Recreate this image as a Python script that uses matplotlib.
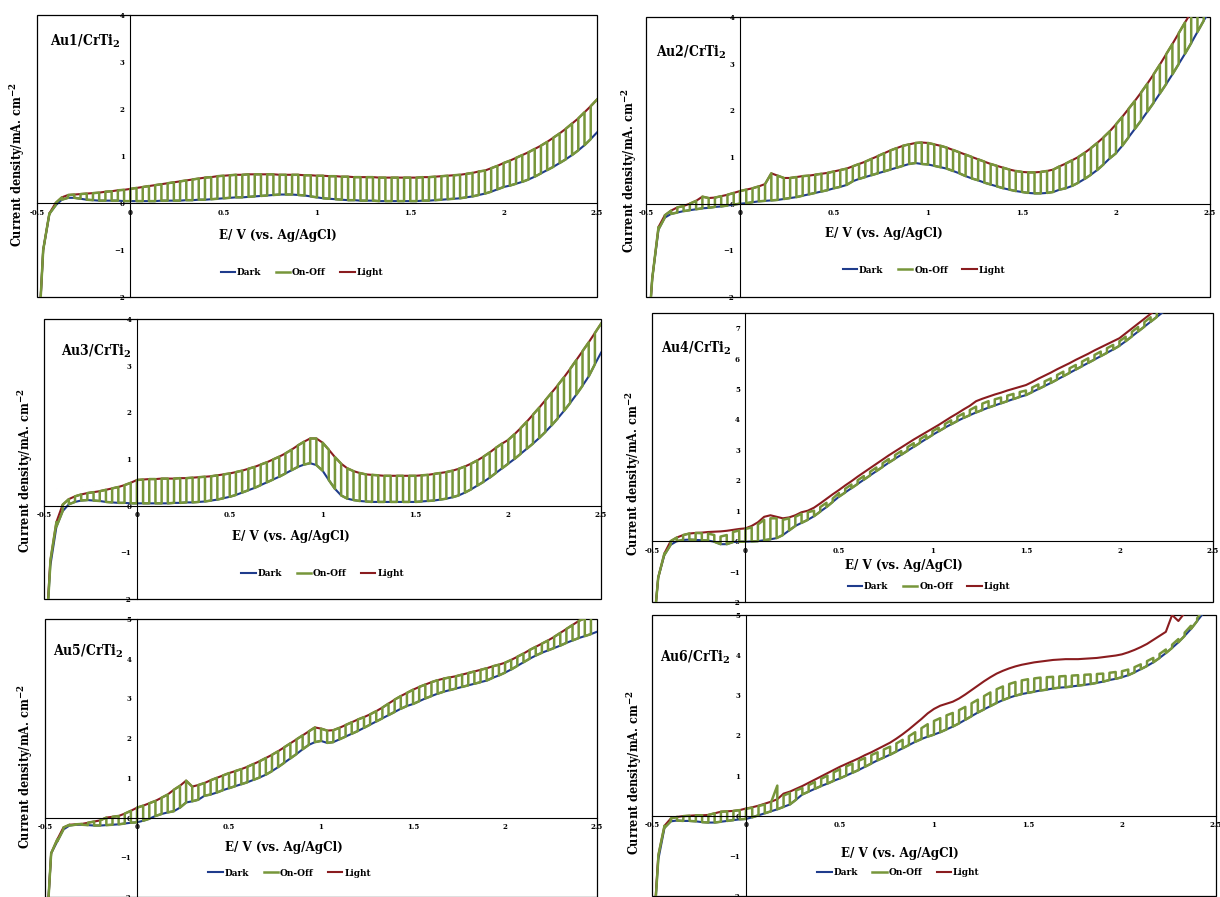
import numpy as np
import matplotlib.pyplot as plt
from matplotlib.patches import Rectangle

plt.rcParams['font.family'] = 'DejaVu Serif'
plt.rcParams['font.weight'] = 'bold'
plt.rcParams['mathtext.fontset'] = 'dejavuserif'

# potential grid (V vs Ag/AgCl); chopping edges sit on every grid point
potential = np.linspace(-0.5, 2.5, 91)

# current density (mA cm-2), one value per grid point
au1_dark = [-3.5, -1.0, -0.23, -0.05, 0.07, 0.11, 0.11, 0.09, 0.07, 0.06, 0.05, 0.05, 0.05, 0.05, 0.04,
            0.04, 0.04, 0.04, 0.04, 0.04, 0.05, 0.05, 0.05, 0.05, 0.06, 0.06, 0.07, 0.07, 0.08, 0.09,
            0.10, 0.11, 0.12, 0.12, 0.13, 0.14, 0.15, 0.16, 0.17, 0.18, 0.18, 0.18, 0.17, 0.16, 0.14,
            0.12, 0.10, 0.09, 0.08, 0.07, 0.06, 0.06, 0.05, 0.05, 0.05, 0.04, 0.04, 0.04, 0.04, 0.04,
            0.04, 0.04, 0.05, 0.05, 0.06, 0.07, 0.08, 0.09, 0.10, 0.12, 0.14, 0.17, 0.20, 0.24, 0.29,
            0.34, 0.37, 0.41, 0.45, 0.50, 0.56, 0.63, 0.70, 0.77, 0.85, 0.93, 1.02, 1.12, 1.23, 1.36,
            1.50]
au1_light = [-3.5, -1.0, -0.22, 0.0, 0.12, 0.17, 0.18, 0.19, 0.20, 0.21, 0.22, 0.24, 0.25, 0.27, 0.28,
             0.30, 0.32, 0.34, 0.36, 0.38, 0.40, 0.42, 0.44, 0.46, 0.48, 0.50, 0.52, 0.54, 0.55, 0.57,
             0.58, 0.59, 0.60, 0.60, 0.61, 0.61, 0.61, 0.61, 0.61, 0.60, 0.60, 0.60, 0.60, 0.59, 0.59,
             0.58, 0.58, 0.57, 0.57, 0.56, 0.56, 0.55, 0.55, 0.55, 0.55, 0.54, 0.54, 0.54, 0.54, 0.54,
             0.54, 0.54, 0.55, 0.55, 0.56, 0.57, 0.58, 0.59, 0.60, 0.62, 0.64, 0.67, 0.69, 0.74, 0.79,
             0.85, 0.90, 0.96, 1.02, 1.08, 1.15, 1.22, 1.30, 1.39, 1.48, 1.58, 1.69, 1.80, 1.93, 2.06,
             2.20]

au2_dark = [-3.5, -1.6, -0.55, -0.30, -0.22, -0.19, -0.16, -0.14, -0.12, -0.10, -0.09, -0.07, -0.06, -0.04, -0.02,
            0.0, 0.01, 0.03, 0.05, 0.06, 0.07, 0.08, 0.10, 0.12, 0.14, 0.17, 0.20, 0.23, 0.26, 0.29,
            0.33, 0.36, 0.40, 0.48, 0.53, 0.57, 0.61, 0.65, 0.69, 0.73, 0.77, 0.81, 0.85, 0.87, 0.85,
            0.84, 0.81, 0.78, 0.75, 0.70, 0.65, 0.59, 0.54, 0.50, 0.45, 0.41, 0.37, 0.33, 0.30, 0.27,
            0.25, 0.23, 0.22, 0.22, 0.23, 0.25, 0.30, 0.33, 0.38, 0.45, 0.53, 0.62, 0.72, 0.84, 0.97,
            1.08, 1.24, 1.42, 1.60, 1.78, 1.97, 2.16, 2.36, 2.56, 2.77, 2.99, 3.21, 3.44, 3.68, 3.92,
            4.15]
au2_light = [-3.5, -1.6, -0.50, -0.25, -0.15, -0.08, -0.05, 0.0, 0.06, 0.15, 0.12, 0.13, 0.16, 0.19, 0.23,
             0.27, 0.30, 0.33, 0.37, 0.42, 0.65, 0.60, 0.55, 0.55, 0.57, 0.59, 0.60, 0.62, 0.64, 0.66,
             0.69, 0.72, 0.75, 0.80, 0.85, 0.90, 0.96, 1.02, 1.08, 1.14, 1.19, 1.24, 1.27, 1.30, 1.31,
             1.30, 1.27, 1.24, 1.20, 1.15, 1.10, 1.05, 1.00, 0.95, 0.90, 0.85, 0.81, 0.77, 0.73, 0.70,
             0.68, 0.67, 0.67, 0.68, 0.70, 0.73, 0.80, 0.86, 0.93, 1.00, 1.09, 1.19, 1.30, 1.42, 1.55,
             1.70, 1.86, 2.03, 2.20, 2.38, 2.57, 2.77, 2.98, 3.20, 3.42, 3.65, 3.88, 4.10, 4.35, 4.60,
             4.85]

au3_dark = [-3.5, -1.3, -0.45, -0.12, 0.03, 0.08, 0.11, 0.12, 0.11, 0.10, 0.08, 0.07, 0.06, 0.06, 0.05,
            0.05, 0.05, 0.05, 0.05, 0.05, 0.05, 0.06, 0.06, 0.07, 0.07, 0.08, 0.09, 0.11, 0.13, 0.16,
            0.19, 0.23, 0.28, 0.33, 0.38, 0.44, 0.50, 0.56, 0.62, 0.69, 0.76, 0.83, 0.88, 0.91, 0.87,
            0.75, 0.55, 0.36, 0.22, 0.15, 0.12, 0.10, 0.09, 0.08, 0.08, 0.08, 0.08, 0.08, 0.08, 0.08,
            0.08, 0.09, 0.10, 0.11, 0.13, 0.15, 0.18, 0.22, 0.28, 0.35, 0.43, 0.51, 0.60, 0.70, 0.80,
            0.90, 1.00, 1.11, 1.22, 1.33, 1.45, 1.58, 1.72, 1.87, 2.03, 2.20, 2.38, 2.57, 2.77, 3.03,
            3.28]
au3_light = [-3.5, -1.2, -0.35, 0.02, 0.14, 0.20, 0.24, 0.27, 0.29, 0.31, 0.34, 0.37, 0.40, 0.44, 0.49,
             0.55, 0.56, 0.57, 0.57, 0.58, 0.58, 0.58, 0.59, 0.59, 0.60, 0.61, 0.62, 0.63, 0.65, 0.67,
             0.69, 0.72, 0.75, 0.79, 0.83, 0.88, 0.93, 0.99, 1.05, 1.12, 1.20, 1.29, 1.37, 1.44, 1.44,
             1.35, 1.20, 1.04, 0.90, 0.80, 0.74, 0.70, 0.67, 0.66, 0.65, 0.64, 0.64, 0.64, 0.64, 0.64,
             0.64, 0.65, 0.66, 0.68, 0.70, 0.72, 0.75, 0.79, 0.84, 0.90, 0.97, 1.05, 1.14, 1.24, 1.33,
             1.41, 1.53, 1.66, 1.80, 1.95, 2.10, 2.26, 2.42, 2.58, 2.75, 2.93, 3.12, 3.31, 3.50, 3.70,
             3.90]

au4_dark = [-3.5, -1.2, -0.45, -0.12, 0.0, 0.04, 0.05, 0.04, 0.03, 0.02, -0.02, -0.10, -0.10, -0.03, -0.02,
            -0.02, -0.01, 0.0, 0.03, 0.06, 0.10, 0.20, 0.35, 0.50, 0.60, 0.70, 0.82, 0.97, 1.12, 1.29,
            1.46, 1.60, 1.74, 1.88, 2.02, 2.16, 2.30, 2.44, 2.58, 2.71, 2.84, 2.97, 3.10, 3.23, 3.36,
            3.49, 3.61, 3.73, 3.84, 3.95, 4.05, 4.14, 4.23, 4.31, 4.39, 4.46, 4.53, 4.60, 4.67, 4.74,
            4.80, 4.90, 5.00, 5.10, 5.20, 5.31, 5.42, 5.53, 5.64, 5.75, 5.86, 5.97, 6.08, 6.19, 6.30,
            6.42, 6.57, 6.73, 6.89, 7.05, 7.21, 7.37, 7.53, 7.69, 7.85, 8.00, 8.15, 8.30, 8.45, 8.60,
            8.75]
au4_light = [-3.5, -1.2, -0.40, 0.0, 0.12, 0.20, 0.25, 0.27, 0.28, 0.30, 0.31, 0.32, 0.34, 0.37, 0.40,
             0.42, 0.50, 0.62, 0.80, 0.85, 0.80, 0.75, 0.78, 0.85, 0.95, 1.00, 1.10, 1.24, 1.39, 1.54,
             1.68, 1.83, 1.97, 2.12, 2.26, 2.40, 2.54, 2.68, 2.82, 2.95, 3.08, 3.21, 3.34, 3.46, 3.58,
             3.70, 3.82, 3.95, 4.08, 4.20, 4.33, 4.45, 4.60, 4.68, 4.75, 4.82, 4.88, 4.95, 5.01, 5.07,
             5.13, 5.23, 5.34, 5.44, 5.54, 5.65, 5.75, 5.85, 5.96, 6.06, 6.16, 6.27, 6.37, 6.47, 6.57,
             6.67, 6.83, 6.99, 7.15, 7.31, 7.47, 7.63, 7.79, 7.95, 8.10, 8.25, 8.40, 8.55, 8.70, 8.85,
             9.00]
# level the chopped trace reaches while illuminated (below the Light curve here)
au4_on = [-3.5, -1.2, -0.40, 0.0, 0.12, 0.20, 0.25, 0.27, 0.26, 0.25, 0.20, 0.15, 0.20, 0.30, 0.35,
          0.40, 0.45, 0.55, 0.70, 0.75, 0.75, 0.70, 0.75, 0.80, 0.90, 0.95, 1.00, 1.12, 1.26, 1.40,
          1.58, 1.72, 1.86, 2.00, 2.14, 2.28, 2.42, 2.56, 2.70, 2.83, 2.96, 3.09, 3.22, 3.35, 3.48,
          3.61, 3.73, 3.85, 3.97, 4.09, 4.20, 4.31, 4.42, 4.52, 4.60, 4.66, 4.72, 4.78, 4.84, 4.90,
          4.95, 5.05, 5.15, 5.25, 5.35, 5.46, 5.57, 5.68, 5.79, 5.90, 6.01, 6.12, 6.23, 6.34, 6.45,
          6.57, 6.72, 6.88, 7.04, 7.20, 7.36, 7.52, 7.68, 7.84, 8.00, 8.15, 8.30, 8.45, 8.60, 8.75,
          8.90]

au5_dark = [-3.5, -0.9, -0.60, -0.30, -0.20, -0.18, -0.18, -0.19, -0.20, -0.20, -0.19, -0.18, -0.17, -0.15, -0.13,
            -0.12, -0.08, -0.03, 0.04, 0.09, 0.13, 0.16, 0.25, 0.38, 0.41, 0.45, 0.55, 0.58, 0.63, 0.69,
            0.74, 0.79, 0.84, 0.89, 0.95, 1.01, 1.08, 1.17, 1.27, 1.38, 1.49, 1.60, 1.72, 1.83, 1.90,
            1.93, 1.88, 1.90, 1.97, 2.04, 2.11, 2.18, 2.26, 2.34, 2.42, 2.50, 2.58, 2.66, 2.74, 2.81,
            2.86, 2.93, 3.00, 3.06, 3.12, 3.17, 3.21, 3.25, 3.29, 3.33, 3.37, 3.41, 3.45, 3.52, 3.58,
            3.65, 3.73, 3.82, 3.91, 4.00, 4.08, 4.15, 4.21, 4.27, 4.33, 4.40, 4.46, 4.52, 4.57, 4.62,
            4.68]
au5_light = [-3.5, -0.9, -0.55, -0.25, -0.18, -0.17, -0.16, -0.13, -0.10, -0.07, 0.0, 0.02, 0.04, 0.10, 0.17,
             0.25, 0.30, 0.36, 0.42, 0.50, 0.58, 0.70, 0.80, 0.93, 0.78, 0.82, 0.87, 0.94, 1.00, 1.06,
             1.12, 1.17, 1.22, 1.28, 1.35, 1.42, 1.50, 1.58, 1.67, 1.77, 1.87, 1.97, 2.07, 2.17, 2.27,
             2.24, 2.19, 2.20, 2.26, 2.33, 2.40, 2.47, 2.53, 2.60, 2.68, 2.77, 2.87, 2.97, 3.06, 3.14,
             3.22, 3.29, 3.35, 3.41, 3.46, 3.50, 3.53, 3.56, 3.60, 3.64, 3.68, 3.72, 3.76, 3.81, 3.85,
             3.90, 3.97, 4.05, 4.13, 4.22, 4.30, 4.38, 4.46, 4.55, 4.65, 4.75, 4.85, 4.95, 5.02, 5.08,
             5.15]

au6_dark = [-3.5, -1.1, -0.30, -0.14, -0.12, -0.13, -0.13, -0.14, -0.16, -0.17, -0.17, -0.15, -0.13, -0.11, -0.09,
            -0.08, -0.04, 0.01, 0.06, 0.11, 0.16, 0.22, 0.28, 0.40, 0.53, 0.60, 0.67, 0.74, 0.80, 0.87,
            0.93, 1.00, 1.07, 1.14, 1.22, 1.30, 1.38, 1.45, 1.52, 1.60, 1.68, 1.76, 1.84, 1.91, 1.97,
            2.02, 2.08, 2.15, 2.22, 2.30, 2.39, 2.48, 2.57, 2.65, 2.73, 2.81, 2.88, 2.94, 2.99, 3.03,
            3.06, 3.09, 3.12, 3.14, 3.17, 3.19, 3.20, 3.22, 3.24, 3.26, 3.28, 3.31, 3.34, 3.38, 3.41,
            3.45, 3.50, 3.57, 3.65, 3.73, 3.82, 3.93, 4.05, 4.18, 4.32, 4.48, 4.65, 4.85, 5.05, 5.25,
            5.45]
au6_light = [-3.5, -1.0, -0.25, -0.07, -0.03, -0.01, 0.0, 0.01, 0.01, 0.02, 0.06, 0.10, 0.11, 0.12, 0.14,
             0.18, 0.21, 0.25, 0.30, 0.35, 0.41, 0.55, 0.60, 0.67, 0.74, 0.82, 0.90, 0.98, 1.06, 1.14,
             1.22, 1.29, 1.36, 1.43, 1.51, 1.58, 1.66, 1.74, 1.82, 1.92, 2.03, 2.15, 2.28, 2.41, 2.55,
             2.66, 2.74, 2.79, 2.84, 2.92, 3.02, 3.13, 3.24, 3.35, 3.45, 3.54, 3.61, 3.67, 3.72, 3.76,
             3.79, 3.82, 3.84, 3.86, 3.88, 3.89, 3.90, 3.90, 3.90, 3.91, 3.92, 3.93, 3.95, 3.97, 3.99,
             4.02, 4.07, 4.13, 4.20, 4.28, 4.38, 4.48, 4.58, 5.00, 4.85, 5.05, 5.25, 5.45, 5.65, 5.85,
             6.05]
au6_on = [-3.5, -1.0, -0.25, -0.07, -0.03, -0.01, 0.0, 0.01, 0.01, 0.02, 0.06, 0.10, 0.11, 0.12, 0.14,
          0.17, 0.20, 0.24, 0.28, 0.33, 0.75, 0.50, 0.57, 0.63, 0.69, 0.76, 0.84, 0.92, 1.00, 1.08,
          1.16, 1.23, 1.30, 1.37, 1.44, 1.51, 1.58, 1.65, 1.72, 1.80, 1.89, 1.98, 2.08, 2.18, 2.28,
          2.36, 2.43, 2.50, 2.56, 2.63, 2.71, 2.80, 2.89, 2.98, 3.07, 3.15, 3.22, 3.28, 3.33, 3.37,
          3.40, 3.42, 3.44, 3.45, 3.46, 3.47, 3.48, 3.49, 3.50, 3.51, 3.52, 3.53, 3.54, 3.56, 3.58,
          3.60, 3.64, 3.70, 3.77, 3.85, 3.93, 4.03, 4.14, 4.26, 4.40, 4.56, 4.73, 4.92, 5.12, 5.32,
          5.52]

samples = ["Au1", "Au2", "Au3", "Au4", "Au5", "Au6"]
dark_sets = [au1_dark, au2_dark, au3_dark, au4_dark, au5_dark, au6_dark]
light_sets = [au1_light, au2_light, au3_light, au4_light, au5_light, au6_light]
on_sets = [au1_light, au2_light, au3_light, au4_on, au5_light, au6_on]
y_tops = [4, 4, 4, 7.5, 5, 5]

x_ticks = [-0.5, 0, 0.5, 1, 1.5, 2, 2.5]
x_tick_labels = ["-0.5", "0", "0.5", "1", "1.5", "2", "2.5"]

# layout: axes rect, title xy (data), x-label xy (data), legend xy (axes), y-label xy (axes)
layout = [
    ([0.0303, 0.6689, 0.4590, 0.3144], (-0.43, 3.43), (0.79, -0.69), (0.473, 0.088), (-0.034, 0.47)),
    ([0.5295, 0.6689, 0.4623, 0.3122], (-0.448, 3.25), (0.765, -0.63), (0.493, 0.096), (-0.029, 0.45)),
    ([0.0361, 0.3322, 0.4566, 0.3122], (-0.41, 3.30), (0.83, -0.67), (0.500, 0.091), (-0.033, 0.457)),
    ([0.5344, 0.3289, 0.4598, 0.3222], (-0.45, 6.34), (0.846, -0.79), (0.494, 0.053), (-0.033, 0.443)),
    ([0.0369, 0.0000, 0.4525, 0.3099], (-0.456, 4.18), (0.80, -0.75), (0.443, 0.086), (-0.036, 0.47)),
    ([0.5344, 0.0011, 0.4623, 0.3133], (-0.458, 3.94), (0.82, -0.93), (0.437, 0.083), (-0.030, 0.44)),
]

DARK_C = "#1f3c8c"
ONOFF_C = "#77963a"
LIGHT_C = "#8a1c1f"


def chop_trace(dark, on):
    # odd intervals illuminated, even intervals dark
    xs, ys = [], []
    for k in range(len(potential) - 1):
        level = on if k % 2 else dark
        xs += [potential[k], potential[k + 1]]
        ys += [level[k], level[k + 1]]
    return xs, ys


fig = plt.figure(figsize=(12.2, 8.97), dpi=100)

for i, name in enumerate(samples):
    rect, title_xy, xlab_xy, leg_xy, ylab_xy = layout[i]
    ax = fig.add_axes(rect)
    ax.set_xlim(-0.5, 2.5)
    ax.set_ylim(-2, y_tops[i])

    l_dark, = ax.plot(potential, dark_sets[i], color=DARK_C, lw=1.5)
    l_light, = ax.plot(potential, light_sets[i], color=LIGHT_C, lw=1.5)
    xs, ys = chop_trace(dark_sets[i], on_sets[i])
    l_on, = ax.plot(xs, ys, color=ONOFF_C, lw=1.8)

    ax.spines["left"].set_position(("data", 0))
    ax.spines["bottom"].set_position(("data", 0))
    for s in ["left", "bottom"]:
        ax.spines[s].set_linewidth(0.8)
    ax.spines["top"].set_visible(False)
    ax.spines["right"].set_visible(False)
    ax.add_patch(Rectangle((0, 0), 1, 1, transform=ax.transAxes, fill=False,
                           lw=0.9, edgecolor="black", clip_on=False))

    ax.set_xticks(x_ticks)
    ax.set_xticklabels(x_tick_labels)
    ax.set_yticks(range(-2, int(y_tops[i]) + 1))
    ax.tick_params(length=0, labelsize=5, pad=4)

    ax.text(title_xy[0], title_xy[1], name + "/CrTi$_\\mathbf{2}$", fontsize=10,
            fontstretch="condensed", ha="left", va="center")
    ax.text(xlab_xy[0], xlab_xy[1], "E/ V (vs. Ag/AgCl)", fontsize=9.5,
            fontstretch="condensed", ha="center", va="center")
    ax.text(ylab_xy[0], ylab_xy[1], "Current density/mA. cm$^{\\mathbf{-2}}$",
            transform=ax.transAxes, rotation=90, fontsize=9, fontstretch="condensed",
            ha="center", va="center")
    ax.legend([l_dark, l_on, l_light], ["Dark", "On-Off", "Light"], loc="center",
              bbox_to_anchor=leg_xy, ncol=3, frameon=False, fontsize=6.5,
              handlelength=1.6, handletextpad=0.2, columnspacing=1.6)

fig.savefig("out.png", dpi=100)
